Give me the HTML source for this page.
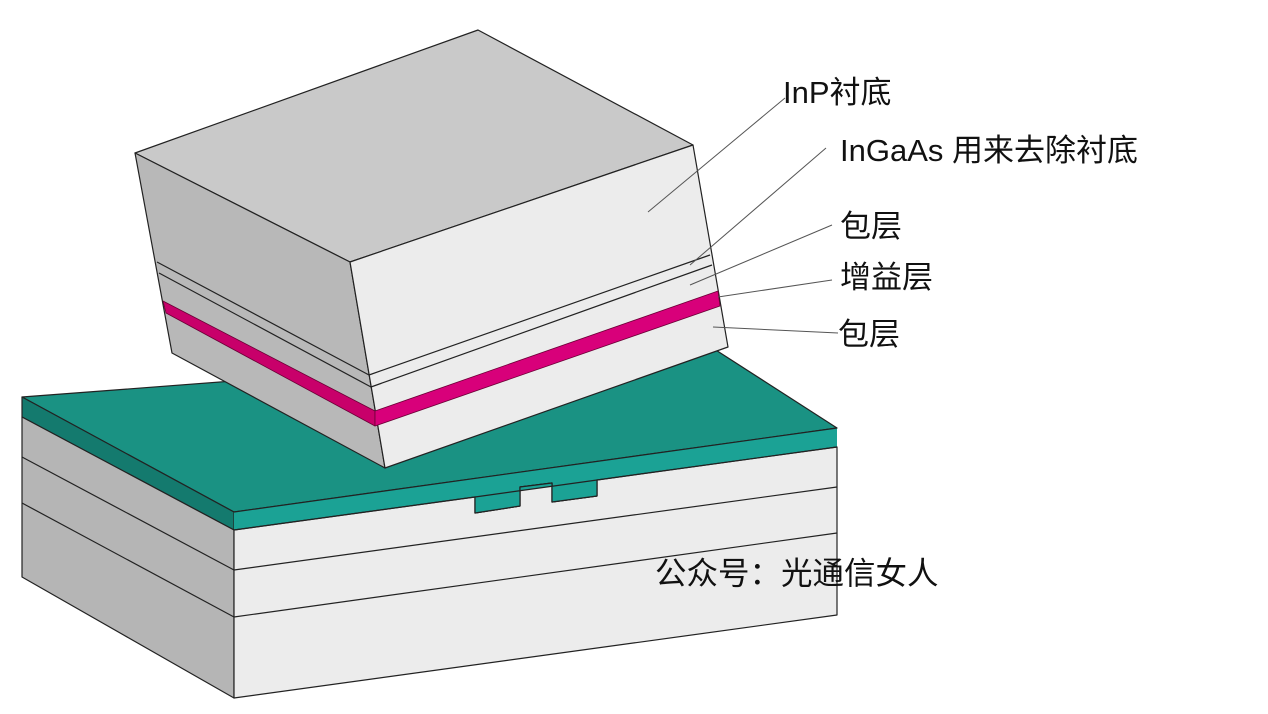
<!DOCTYPE html>
<html><head><meta charset="utf-8"><style>
html,body{margin:0;padding:0;background:#fff;width:1268px;height:714px;overflow:hidden}
svg text{font-family:"Liberation Sans","Noto Sans CJK SC",sans-serif;font-size:31px;fill:#111}
</style></head><body>
<svg width="1268" height="714" viewBox="0 0 1268 714" xmlns="http://www.w3.org/2000/svg">
<g stroke="#222" stroke-width="1.2" stroke-linejoin="round">
<polygon points="22,397 708,345 837,428 234,512" fill="#1a9283"/>
<polygon points="22,397 234,512 234,530 22,417" fill="#147a6e"/>
<polygon points="234,512 837,428 837,447 234,530" fill="#1ba295" stroke="none"/>
<polygon points="22,417 234,530 234,698 22,577" fill="#b5b5b5"/>
<polygon points="234,530 475,497 475,513 520,506 520,487 552,483 552,502 597,496 597,480 837,447 837,615 234,698" fill="#ececec"/>
<polyline points="234,530 475,497 475,513 520,506 520,487 552,483 552,502 597,496 597,480 837,447" fill="none"/>
<polygon points="475,497 597,480 597,496 552,502 552,483 520,487 520,506 475,513" fill="#1ba295"/>
<line x1="234" y1="512" x2="837" y2="428"/>
<line x1="234" y1="570" x2="837" y2="487"/>
<line x1="234" y1="617" x2="837" y2="533"/>
<line x1="22" y1="457" x2="234" y2="570"/>
<line x1="22" y1="503" x2="234" y2="617"/>
<polygon points="135,153 478,30 693,145 350,262" fill="#c9c9c9"/>
<polygon points="135,153 350,262 385,468 172,353" fill="#b8b8b8"/>
<polygon points="350,262 693,145 728,347 385,468" fill="#ececec"/>
<polygon points="163,301 375,411 375,426 166,313" fill="#c8006a" stroke="#6a0035" stroke-width="0.8"/>
<polygon points="375,411 718,291 720,306 375,426" fill="#d8007a" stroke="#6a0035" stroke-width="0.8"/>
<polyline points="157,262 369,375 710,255" fill="none"/>
<polyline points="159,273 371,387 712,265" fill="none"/>
</g>
<g stroke="#555" stroke-width="1" fill="none">
<line x1="785" y1="98" x2="648" y2="212"/>
<line x1="826" y1="148" x2="690" y2="265"/>
<line x1="832" y1="225" x2="690" y2="285"/>
<line x1="832" y1="280" x2="718" y2="297"/>
<line x1="838" y1="333" x2="713" y2="327"/>
</g>
<text x="783" y="103">InP衬底</text>
<text x="840" y="161">InGaAs 用来去除衬底</text>
<text x="840" y="237">包层</text>
<text x="840" y="288">增益层</text>
<text x="838" y="345">包层</text>
<text x="655" y="584" style="font-size:31.5px">公众号：光通信女人</text>
</svg>
</body></html>
